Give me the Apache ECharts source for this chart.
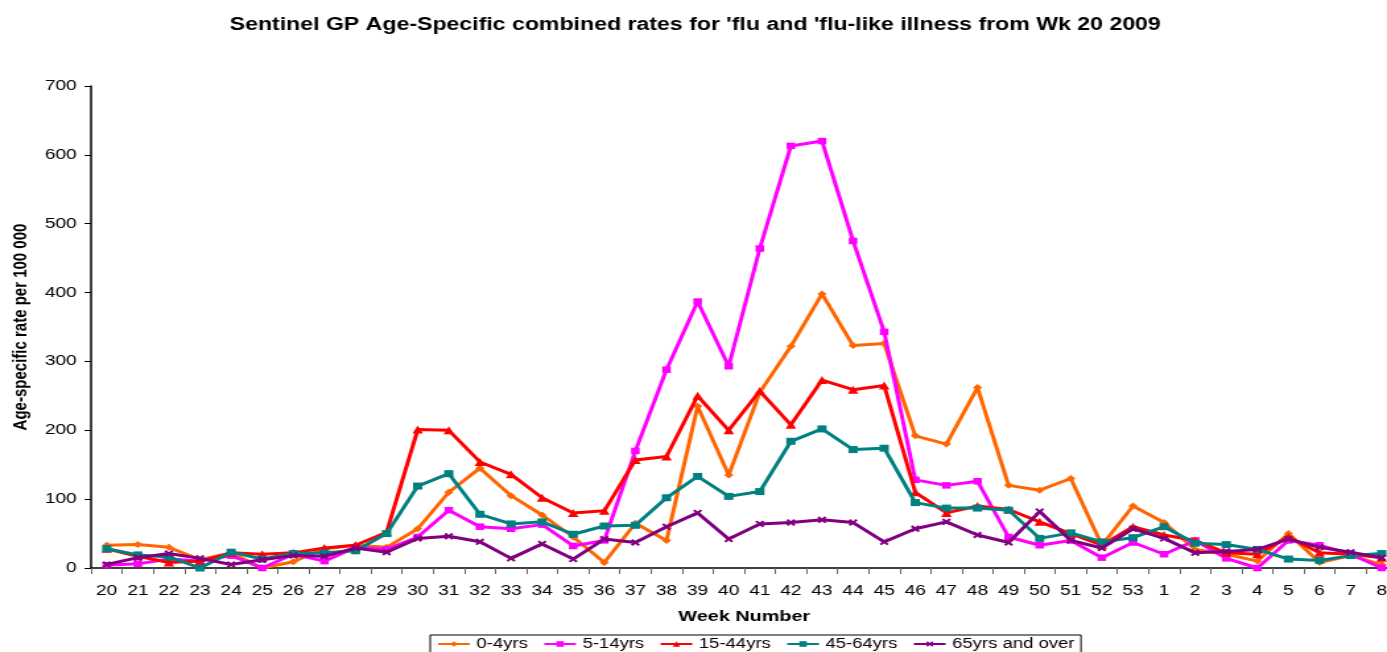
<!DOCTYPE html>
<html>
<head>
<meta charset="utf-8">
<script src="https://cdn.jsdelivr.net/npm/echarts@6/dist/echarts.min.js"></script>
<style>
html,body{margin:0;padding:0;background:#fff;overflow:hidden;width:1387px;height:652px}
#c{width:1060px;height:652px;transform:scaleX(1.3197);transform-origin:0 0}
</style>
</head>
<body>
<div id="c"></div>
<script>
const weeks = ['20','21','22','23','24','25','26','27','28','29','30','31','32','33','34','35','36','37','38','39','40','41','42','43','44','45','46','47','48','49','50','51','52','53','1','2','3','4','5','6','7','8'];
const age0_4 = [33,34,30,12,22,0,9,28,33,30,57,110,145,105,77,45,8,65,40,235,135,255,322,398,323,326,192,180,262,120,113,130,33,90,66,27,20,10,50,8,18,5];
const age5_14 = [4,6,13,10,18,0,20,10,30,27,45,84,60,57,63,32,40,170,288,387,293,464,613,620,475,343,128,120,126,45,33,40,15,37,20,40,14,0,40,33,20,0];
const age15_44 = [28,17,8,10,22,20,22,29,33,52,201,200,154,136,102,80,83,157,162,250,200,257,208,273,259,265,110,80,90,85,67,50,33,60,48,40,22,20,45,22,20,15];
const age45_64 = [28,19,16,0,23,13,21,22,25,50,119,137,78,64,67,49,61,62,102,133,104,111,184,202,172,174,95,87,87,84,43,51,38,44,60,36,34,27,13,11,18,21];
const age65 = [5,15,21,14,5,12,18,17,29,23,43,46,38,14,35,13,42,37,60,80,42,64,66,70,66,38,57,67,48,37,82,40,29,57,43,22,24,27,42,30,23,15];
const seriesNames = ['0-4yrs','5-14yrs','15-44yrs','45-64yrs','65yrs and over'];
const yTicks = [0,100,200,300,400,500,600,700];

const xMark = 'path://M2,0 L5,3 L8,0 L10,2 L7,5 L10,8 L8,10 L5,7 L2,10 L0,8 L3,5 L0,2 Z';
const styles = [
  {color:'#FF6600', symbol:'diamond', size:7},
  {color:'#FF00FF', symbol:'rect', size:6.5},
  {color:'#FF0000', symbol:'triangle', size:8},
  {color:'#008080', symbol:'rect', size:7},
  {color:'#800080', symbol:xMark, size:7}
];
const dataSets = [age0_4, age5_14, age15_44, age45_64, age65];

const chart = echarts.init(document.getElementById('c'), null, {renderer:'canvas'});
const font = 'Arial, "Liberation Sans", sans-serif';
chart.setOption({
  animation:false,
  backgroundColor:'#fff',
  title:{
    text:"Sentinel GP Age-Specific combined rates for 'flu and 'flu-like illness from Wk 20 2009",
    left:169, top:11,
    textStyle:{fontFamily:font, fontSize:17.5, fontWeight:'bold', color:'#000'}
  },
  legend:{
    top:635, left:326,
    data:seriesNames,
    itemWidth:24, itemHeight:7, itemGap:11.5,
    padding:[2,5,3,5],
    borderColor:'#000', borderWidth:1, backgroundColor:'#fff',
    textStyle:{fontFamily:font, fontSize:14, color:'#000'}
  },
  grid:{left:64.8, width:994, top:86, bottom:84, containLabel:false},
  xAxis:{
    type:'category', data:weeks, boundaryGap:true,
    name:'Week Number', nameLocation:'middle', nameGap:41,
    nameTextStyle:{fontFamily:font, fontSize:15, fontWeight:'bold', color:'#000'},
    axisLine:{lineStyle:{color:'#000', width:1.5}},
    axisTick:{show:true, length:6, lineStyle:{color:'#666'}},
    axisLabel:{fontFamily:font, fontSize:14.5, color:'#000', margin:15, interval:0},
    splitLine:{show:false}
  },
  yAxis:{
    type:'value', min:yTicks[0], max:yTicks[yTicks.length-1], interval:100,
    name:'Age-specific rate per 100 000', nameLocation:'middle', nameGap:43,
    nameTextStyle:{fontFamily:font, fontSize:15, fontWeight:'bold', color:'#000'},
    axisLine:{show:true, lineStyle:{color:'#000', width:1.5}},
    axisTick:{show:true, length:5, lineStyle:{color:'#000'}},
    axisLabel:{fontFamily:font, fontSize:14.5, color:'#000', margin:11},
    splitLine:{show:false}
  },
  series: dataSets.map((d,i)=>({
    name:seriesNames[i], type:'line', data:d,
    symbol:styles[i].symbol, symbolSize:styles[i].size, showSymbol:true,
    lineStyle:{color:styles[i].color, width:3},
    itemStyle:{color:styles[i].color, borderWidth:0},
    z: 2+i
  }))
});
</script>
</body>
</html>
